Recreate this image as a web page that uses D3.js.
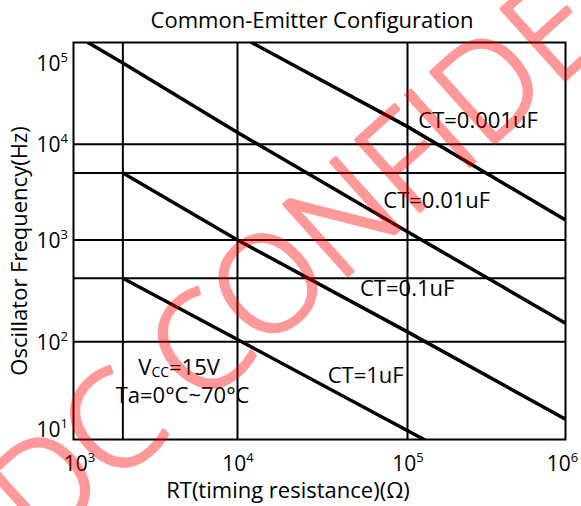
<!DOCTYPE html>
<html>
<head>
<meta charset="utf-8">
<script src="https://cdn.jsdelivr.net/npm/d3@7"></script>
<style>
body { margin: 0; background: #fff; }
text { font-family: "Open Sans", sans-serif; fill: #000; }
</style>
</head>
<body>
<div id="chart"></div>
<script>
var svgWidth = 581;
var svgHeight = 506;

var margin = {top: 42.5, right: 15.5, bottom: 66.5, left: 73.5};
var width = svgWidth - margin.left - margin.right;
var height = svgHeight - margin.top - margin.bottom;

// axis decades (tick labels 10^n)
var xDecades = [1e3, 1e4, 1e5, 1e6];
var yDecades = [1e1, 1e2, 1e3, 1e4, 1e5];

// grid lines drawn on the sheet
var xGrid = [2000, 1e4, 1e5];
var yGrid = [420, 100, 1000, 5000, 1e4];

// curves: [RT ohm, frequency Hz]
var ct0001 = [[12000, 1.8e5], [1e5, 16500], [1e6, 1620]];
var ct001 = [[1217, 1.8e5], [2000, 1e5], [1e4, 14000], [1e5, 1220], [1e6, 152]];
var ct01 = [[2000, 5000], [1e4, 1000], [1e5, 125], [1e6, 13.1]];
var ct1 = [[2000, 420], [1e4, 105], [1.29e5, 7.6]];

var curveNames = ["CT=0.001uF", "CT=0.01uF", "CT=0.1uF", "CT=1uF"];
var curves = [ct0001, ct001, ct01, ct1];

var svg = d3.select("#chart").append("svg")
  .attr("width", svgWidth)
  .attr("height", svgHeight);

var chartGroup = svg.append("g")
  .attr("transform", `translate(${margin.left}, ${margin.top})`);

// the printed chart has slightly uneven decades, so the log scales are piecewise
var xScale = d3.scaleLog()
  .domain(xDecades)
  .range([0, 164, 334, width]);

var yScale = d3.scaleLog()
  .domain(yDecades)
  .range([387, 299.2, 197.5, 101.8, 20.5]);

// grid
chartGroup.selectAll(".vgrid")
  .data(xGrid)
  .enter()
  .append("line")
  .attr("x1", d => xScale(d))
  .attr("x2", d => xScale(d))
  .attr("y1", 0)
  .attr("y2", height)
  .attr("stroke", "#000")
  .attr("stroke-width", 2);

chartGroup.selectAll(".hgrid")
  .data(yGrid)
  .enter()
  .append("line")
  .attr("x1", 0)
  .attr("x2", width)
  .attr("y1", d => yScale(d))
  .attr("y2", d => yScale(d))
  .attr("stroke", "#000")
  .attr("stroke-width", 2);

chartGroup.append("clipPath")
  .attr("id", "plotClip")
  .append("rect")
  .attr("width", width)
  .attr("height", height);

// curves
var line = d3.line()
  .x(d => xScale(d[0]))
  .y(d => yScale(d[1]));

chartGroup.append("g")
  .attr("clip-path", "url(#plotClip)")
  .selectAll("path")
  .data(curves)
  .enter()
  .append("path")
  .attr("d", line)
  .attr("fill", "none")
  .attr("stroke", "#000")
  .attr("stroke-width", 3.5);

// border
chartGroup.append("rect")
  .attr("width", width)
  .attr("height", height)
  .attr("fill", "none")
  .attr("stroke", "#000")
  .attr("stroke-width", 2);

// superscript labels 10^n
function powerLabel(sel) {
  sel.each(function(d) {
    var t = d3.select(this);
    t.text(null);
    t.append("tspan").text("10");
    t.append("tspan")
      .attr("font-size", "13px")
      .attr("dy", -9)
      .text(Math.round(Math.log10(d)));
  });
}

var bottomAxis = d3.axisBottom(xScale)
  .tickValues(xDecades)
  .tickSize(0);

var xAxis = chartGroup.append("g")
  .attr("transform", `translate(0, ${height})`)
  .call(bottomAxis);
xAxis.select(".domain").remove();
xAxis.selectAll("text")
  .attr("y", 31)
  .attr("dy", 0)
  .attr("dx", (d, i) => i === 0 ? 5.5 : (i === xDecades.length - 1 ? -3.5 : 0))
  .attr("font-size", "21px")
  .attr("font-family", "Open Sans")
  .call(powerLabel);

var leftAxis = d3.axisLeft(yScale)
  .tickValues(yDecades)
  .tickSize(0)
  .tickPadding(5.5);

var yAxis = chartGroup.append("g")
  .call(leftAxis);
yAxis.select(".domain").remove();
yAxis.selectAll("text")
  .attr("dy", 7.3)
  .attr("font-size", "21px")
  .attr("font-family", "Open Sans")
  .call(powerLabel);

// title and axis titles
svg.append("text")
  .attr("x", 312)
  .attr("y", 28.3)
  .attr("text-anchor", "middle")
  .attr("font-size", "22px")
  .text("Common-Emitter Configuration");

svg.append("text")
  .attr("x", 288)
  .attr("y", 498)
  .attr("text-anchor", "middle")
  .attr("font-size", "22px")
  .text("RT(timing resistance)(Ω)");

svg.append("text")
  .attr("transform", "translate(27, 251) rotate(-90)")
  .attr("text-anchor", "middle")
  .attr("font-size", "22px")
  .text("Oscillator Frequency(Hz)");

// curve labels
var labelPos = [[418.3, 128.3], [383.3, 208.3], [360, 295.5], [327.7, 383.3]];
svg.selectAll(".ctLabel")
  .data(curveNames)
  .enter()
  .append("text")
  .attr("x", (d, i) => labelPos[i][0])
  .attr("y", (d, i) => labelPos[i][1])
  .attr("font-size", "22px")
  .text(d => d);

// conditions
var cond = svg.append("text")
  .attr("x", 138.3)
  .attr("y", 375)
  .attr("font-size", "22px");
cond.append("tspan").text("V");
cond.append("tspan").attr("font-size", "14px").attr("dy", 2).text("CC");
cond.append("tspan").attr("dy", -2).text("=15V");

svg.append("text")
  .attr("x", 115.7)
  .attr("y", 403.3)
  .attr("font-size", "22px")
  .text("Ta=0°C~70°C");

// watermark
svg.append("text")
  .attr("transform", "translate(42, 551) rotate(-42)")
  .attr("font-family", "Open Sans")
  .attr("font-weight", 300)
  .attr("font-size", "134px")
  .style("fill", "#ff0000")
  .style("stroke", "#ff0000")
  .style("stroke-width", 3.5)
  .style("stroke-linejoin", "round")
  .attr("opacity", 0.4)
  .attr("pointer-events", "none")
  .text("DC CONFIDENTIAL");
</script>
</body>
</html>
